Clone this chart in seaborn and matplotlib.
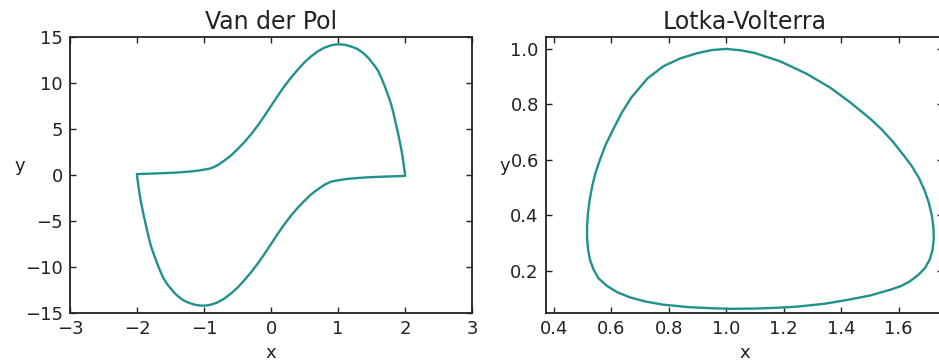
import numpy as np
import pandas as pd
import matplotlib
matplotlib.use('Agg')
import matplotlib.pyplot as plt
import seaborn as sns

# Van der Pol limit cycle
vdp_upper_x = [-2.00, -1.80, -1.60, -1.40, -1.20, -1.10, -1.05, -1.00, -0.95, -0.90,
               -0.85, -0.80, -0.70, -0.60, -0.50, -0.40, -0.30, -0.20, -0.10, 0.00,
               0.10, 0.20, 0.30, 0.40, 0.50, 0.60, 0.70, 0.80, 0.90, 0.95,
               1.00, 1.05, 1.10, 1.15, 1.20, 1.25, 1.30, 1.35, 1.40, 1.45,
               1.50, 1.55, 1.60, 1.65, 1.70, 1.725, 1.75, 1.775, 1.80, 1.825,
               1.85, 1.875, 1.90, 1.925, 1.95, 1.975, 2.00]
vdp_upper_y = [0.10, 0.15, 0.20, 0.27, 0.38, 0.46, 0.52, 0.58, 0.65, 0.72,
               0.88, 1.05, 1.55, 2.10, 2.80, 3.55, 4.40, 5.35, 6.40, 7.50,
               8.60, 9.65, 10.60, 11.45, 12.25, 12.90, 13.45, 13.85, 14.10, 14.17,
               14.20, 14.19, 14.15, 14.07, 13.95, 13.82, 13.65, 13.40, 13.10, 12.75,
               12.30, 11.85, 11.30, 10.50, 9.60, 9.10, 8.60, 8.10, 7.50, 6.80,
               6.00, 5.20, 4.40, 3.50, 2.60, 1.40, 0.10]
vdp_lower_x = [2.00, 1.80, 1.60, 1.40, 1.20, 1.10, 1.05, 1.00, 0.95, 0.90,
               0.85, 0.80, 0.70, 0.60, 0.50, 0.40, 0.30, 0.20, 0.10, 0.00,
               -0.10, -0.20, -0.30, -0.40, -0.50, -0.60, -0.70, -0.80, -0.90, -0.95,
               -1.00, -1.05, -1.10, -1.15, -1.20, -1.25, -1.30, -1.35, -1.40, -1.45,
               -1.50, -1.55, -1.60, -1.65, -1.70, -1.725, -1.75, -1.775, -1.80, -1.825,
               -1.85, -1.875, -1.90, -1.925, -1.95, -1.975, -2.00]
vdp_lower_y = [-0.10, -0.15, -0.20, -0.27, -0.38, -0.46, -0.52, -0.58, -0.65, -0.72,
               -0.88, -1.05, -1.55, -2.10, -2.80, -3.55, -4.40, -5.35, -6.40, -7.50,
               -8.60, -9.65, -10.60, -11.45, -12.25, -12.90, -13.45, -13.85, -14.10, -14.17,
               -14.20, -14.19, -14.15, -14.07, -13.95, -13.82, -13.65, -13.40, -13.10, -12.75,
               -12.30, -11.85, -11.30, -10.50, -9.60, -9.10, -8.60, -8.10, -7.50, -6.80,
               -6.00, -5.20, -4.40, -3.50, -2.60, -1.40, -0.10]

# Lotka-Volterra cycle
lv_x = [1.000, 0.950, 0.900, 0.840, 0.780, 0.725, 0.670, 0.636, 0.607, 0.580,
        0.560, 0.545, 0.533, 0.524, 0.518, 0.515, 0.515, 0.518, 0.525, 0.537,
        0.555, 0.584, 0.620, 0.665, 0.720, 0.781, 0.870, 0.955, 1.013, 1.100,
        1.180, 1.246, 1.340, 1.420, 1.500, 1.571, 1.610, 1.640, 1.670, 1.692,
        1.708, 1.718, 1.722, 1.721, 1.716, 1.705, 1.690, 1.670, 1.645, 1.618,
        1.580, 1.540, 1.501, 1.430, 1.362, 1.280, 1.188, 1.100, 1.050, 1.000]
lv_y = [1.000, 0.996, 0.985, 0.966, 0.937, 0.893, 0.826, 0.770, 0.712, 0.655,
        0.600, 0.555, 0.505, 0.455, 0.405, 0.360, 0.320, 0.280, 0.240, 0.205,
        0.172, 0.145, 0.122, 0.103, 0.088, 0.077, 0.068, 0.064, 0.062, 0.063,
        0.066, 0.070, 0.080, 0.094, 0.110, 0.131, 0.145, 0.162, 0.186, 0.210,
        0.240, 0.275, 0.315, 0.355, 0.395, 0.445, 0.490, 0.535, 0.578, 0.615,
        0.665, 0.710, 0.748, 0.808, 0.860, 0.910, 0.955, 0.985, 0.995, 1.000]

vdp = pd.DataFrame({
    'x': vdp_upper_x + vdp_lower_x + vdp_upper_x[:1],
    'y': vdp_upper_y + vdp_lower_y + vdp_upper_y[:1],
})
lv = pd.DataFrame({'x': lv_x, 'y': lv_y})

sns.set_style('ticks')
plt.rcParams.update({
    'font.family': ['DejaVu Sans'],
    'xtick.direction': 'in', 'ytick.direction': 'in',
    'xtick.top': True, 'ytick.right': True,
    'xtick.major.size': 4.3, 'ytick.major.size': 4.3,
    'xtick.major.width': 1.0, 'ytick.major.width': 1.0,
    'xtick.major.pad': 5, 'ytick.major.pad': 5,
    'xtick.color': '#222222', 'ytick.color': '#222222',
    'xtick.labelsize': 13, 'ytick.labelsize': 13,
    'axes.edgecolor': '#222222', 'axes.linewidth': 1.3,
    'axes.labelsize': 13, 'axes.titlesize': 17,
    'axes.labelcolor': '#222222', 'text.color': '#222222',
})

color = '#21918c'
fig = plt.figure(figsize=(9.39, 3.63), dpi=100)
ax1 = fig.add_axes([0.07455, 0.13774, 0.42812, 0.76033])
ax2 = fig.add_axes([0.58115, 0.13774, 0.42364, 0.76033])

sns.lineplot(data=vdp, x='x', y='y', sort=False, estimator=None, ax=ax1,
             color=color, linewidth=1.7)
ax1.set_xlim(-3, 3)
ax1.set_ylim(-15, 15)
ax1.set_xticks(np.arange(-3, 4, 1))
ax1.set_yticks(np.arange(-15, 16, 5))
ax1.set_title('Van der Pol')
ax1.set_xlabel('x')
ax1.set_ylabel('y', rotation=0)

sns.lineplot(data=lv, x='x', y='y', sort=False, estimator=None, ax=ax2,
             color=color, linewidth=1.7)
ax2.set_xlim(0.371, 1.756)
ax2.set_ylim(0.047, 1.043)
ax2.set_xticks([0.4, 0.6, 0.8, 1.0, 1.2, 1.4, 1.6])
ax2.set_yticks([0.2, 0.4, 0.6, 0.8, 1.0])
ax2.set_title('Lotka-Volterra')
ax2.set_xlabel('x')
ax2.set_ylabel('y', rotation=0)

fig.savefig('out.png', dpi=100)
